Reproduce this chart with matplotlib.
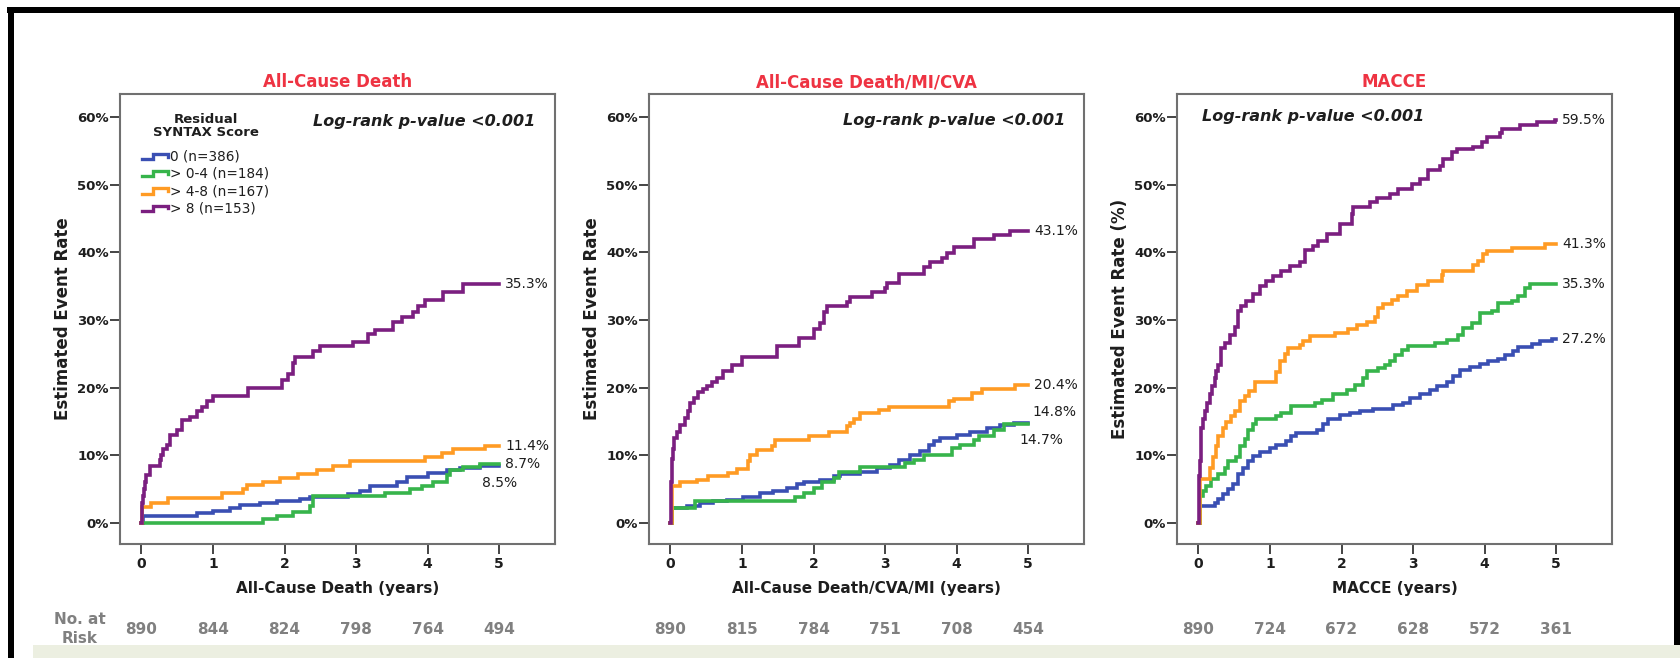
import numpy as np
import matplotlib.pyplot as plt
from matplotlib.patches import Rectangle

plt.rcParams['font.family'] = ['DejaVu Sans']

W, H = 1680, 658

# Residual SYNTAX score groups
groups = ['0 (n=386)', '> 0-4 (n=184)', '> 4-8 (n=167)', '> 8 (n=153)']
colors = ['#3a4fb3', '#37b44b', '#ff9b24', '#7b1f80']
years = [0, 1, 2, 3, 4, 5]

# ---- All-cause death: cumulative event rate (%) at each step time (years)
death_0_t = [0, 0.02, 0.77, 1.00, 1.24, 1.38, 1.66, 1.89, 2.21, 2.35, 2.89, 3.05, 3.19, 3.57, 3.71, 4.01, 4.27, 4.45, 4.73]
death_0_y = [0, 1.1, 1.5, 1.8, 2.2, 2.6, 2.9, 3.2, 3.6, 3.9, 4.3, 4.8, 5.4, 6.1, 6.8, 7.4, 7.9, 8.2, 8.5]
death_04_t = [0, 1.70, 1.89, 2.12, 2.35, 2.40, 3.40, 3.75, 3.92, 4.08, 4.27, 4.31, 4.50, 4.73]
death_04_y = [0, 0.6, 1.1, 1.7, 2.5, 4.0, 4.5, 5.0, 5.5, 6.1, 7.1, 7.8, 8.3, 8.7]
death_48_t = [0, 0.01, 0.14, 0.37, 1.12, 1.42, 1.47, 1.70, 1.93, 2.19, 2.45, 2.68, 2.91, 3.96, 4.20, 4.36, 4.80]
death_48_y = [0, 2.4, 3.0, 3.7, 4.4, 5.0, 5.6, 6.1, 6.6, 7.2, 7.8, 8.4, 9.2, 9.7, 10.3, 10.9, 11.4]
death_8_t = [0, 0.005, 0.01, 0.02, 0.03, 0.05, 0.07, 0.12, 0.26, 0.28, 0.30, 0.36, 0.40, 0.49, 0.56, 0.68,
             0.77, 0.84, 0.91, 1.00, 1.49, 1.96, 2.05, 2.12, 2.15, 2.40, 2.49, 2.96, 3.17, 3.26, 3.52, 3.64,
             3.80, 3.86, 3.96, 4.22, 4.50]
death_8_y = [0, 1.5, 3.0, 4.0, 5.0, 6.0, 7.1, 8.5, 9.3, 10.0, 11.0, 11.6, 13.0, 13.8, 15.2, 15.7,
             16.5, 17.2, 18.0, 18.7, 19.9, 21.1, 22.0, 23.6, 24.5, 25.4, 26.1, 26.7, 27.9, 28.5, 29.7, 30.4,
             31.2, 32.0, 33.0, 34.2, 35.3]
death_risk = [890, 844, 824, 798, 764, 494]

# ---- All-cause death / MI / CVA
dmc_0_t = [0, 0.02, 0.23, 0.41, 0.60, 0.79, 1.02, 1.25, 1.44, 1.63, 1.77, 1.86, 2.09, 2.28, 2.37, 2.65,
           2.89, 3.07, 3.19, 3.35, 3.49, 3.61, 3.68, 3.77, 4.00, 4.19, 4.42, 4.61, 4.80]
dmc_0_y = [0, 2.2, 2.5, 2.9, 3.2, 3.4, 3.9, 4.4, 4.8, 5.2, 5.7, 6.1, 6.3, 6.9, 7.3, 7.6,
           8.1, 8.6, 9.3, 10.1, 10.6, 11.6, 12.1, 12.5, 13.0, 13.5, 14.0, 14.5, 14.8]
dmc_04_t = [0, 0.02, 0.34, 1.74, 1.86, 2.00, 2.12, 2.28, 2.35, 2.65, 3.28, 3.40, 3.54, 3.93, 4.05, 4.24, 4.31, 4.52, 4.66]
dmc_04_y = [0, 2.2, 3.2, 3.9, 4.4, 5.2, 6.1, 6.6, 7.6, 8.3, 8.9, 9.3, 10.1, 11.1, 11.6, 12.2, 12.8, 13.8, 14.7]
dmc_48_t = [0, 0.02, 0.135, 0.37, 0.53, 0.81, 0.93, 1.09, 1.11, 1.21, 1.42, 1.46, 1.93, 2.21, 2.47, 2.51,
            2.56, 2.65, 2.91, 3.05, 3.89, 3.96, 4.21, 4.35, 4.82]
dmc_48_y = [0, 5.4, 6.0, 6.4, 6.9, 7.4, 8.0, 9.1, 10.1, 10.8, 11.4, 12.2, 12.9, 13.5, 14.3, 14.8,
            15.3, 16.2, 16.7, 17.2, 18.0, 18.4, 19.2, 19.8, 20.4]
dmc_8_t = [0, 0.003, 0.006, 0.01, 0.015, 0.02, 0.03, 0.05, 0.09, 0.135, 0.205, 0.24, 0.275, 0.33, 0.39,
           0.45, 0.51, 0.58, 0.65, 0.74, 0.86, 1.00, 1.49, 1.79, 2.00, 2.09, 2.14, 2.19, 2.47, 2.51, 2.82,
           3.00, 3.03, 3.19, 3.54, 3.63, 3.79, 3.86, 3.96, 4.24, 4.52, 4.75]
dmc_8_y = [0, 2, 4, 6, 8, 9.5, 11, 12.5, 13.5, 14.5, 15.5, 16.5, 17.7, 18.5, 19.3,
           19.8, 20.3, 20.8, 21.4, 22.4, 23.4, 24.6, 26.1, 27.3, 28.6, 29.5, 31.2, 32.1, 32.7, 33.4, 34.1,
           34.7, 35.4, 36.8, 37.8, 38.5, 39.2, 39.9, 40.8, 42.0, 42.6, 43.1]
dmc_risk = [890, 815, 784, 751, 708, 454]

# ---- MACCE
macce_0_t = [0, 0.02, 0.23, 0.275, 0.345, 0.415, 0.485, 0.555, 0.625, 0.695, 0.765, 0.86, 1.00, 1.09,
             1.23, 1.30, 1.37, 1.65, 1.74, 1.81, 1.98, 2.12, 2.26, 2.44, 2.72, 2.86, 2.96, 3.10, 3.24,
             3.33, 3.47, 3.56, 3.66, 3.79, 3.93, 4.05, 4.19, 4.28, 4.40, 4.47, 4.66, 4.77, 4.94]
macce_0_y = [0, 2.5, 3.0, 3.5, 4.3, 5.0, 5.7, 7.2, 8.2, 9.2, 9.9, 10.5, 11.1, 11.6,
             12.1, 12.8, 13.3, 13.8, 14.6, 15.4, 16.0, 16.3, 16.6, 16.9, 17.4, 17.7, 18.5, 19.1, 19.7,
             20.3, 20.9, 21.7, 22.6, 23.1, 23.5, 23.9, 24.3, 24.8, 25.4, 26.0, 26.5, 26.9, 27.2]
macce_04_t = [0, 0.02, 0.065, 0.11, 0.18, 0.275, 0.37, 0.415, 0.53, 0.58, 0.65, 0.695, 0.765, 0.81, 1.09,
              1.16, 1.30, 1.63, 1.72, 1.88, 2.07, 2.19, 2.30, 2.35, 2.51, 2.61, 2.68, 2.75, 2.84, 2.93,
              3.31, 3.47, 3.63, 3.70, 3.82, 3.93, 4.10, 4.19, 4.38, 4.47, 4.56, 4.63]
macce_04_y = [0, 4.0, 4.8, 5.5, 6.5, 7.2, 8.2, 9.2, 9.7, 11.4, 12.4, 13.8, 14.6, 15.3, 15.8,
              16.3, 17.3, 17.7, 18.2, 19.0, 19.7, 20.4, 21.4, 22.4, 22.9, 23.4, 23.9, 24.9, 25.6, 26.1,
              26.6, 27.1, 27.8, 28.8, 29.6, 31.0, 31.3, 32.5, 32.8, 33.5, 34.8, 35.3]
macce_48_t = [0, 0.02, 0.16, 0.21, 0.25, 0.275, 0.345, 0.39, 0.46, 0.51, 0.58, 0.65, 0.70, 0.79, 1.09,
              1.14, 1.21, 1.25, 1.42, 1.46, 1.56, 1.91, 2.09, 2.21, 2.35, 2.47, 2.51, 2.58, 2.70, 2.79,
              2.91, 3.05, 3.21, 3.40, 3.42, 3.84, 3.91, 3.98, 4.03, 4.38, 4.84]
macce_48_y = [0, 6.5, 8.2, 9.7, 11.4, 12.8, 14.1, 15.0, 15.8, 16.5, 18.0, 18.7, 19.5, 20.8, 22.3,
              24.0, 25.0, 25.8, 26.3, 26.9, 27.6, 28.1, 28.6, 29.2, 29.7, 30.5, 31.8, 32.4, 33.0, 33.6,
              34.3, 35.2, 35.7, 36.7, 37.2, 38.2, 38.7, 39.7, 40.2, 40.7, 41.3]
macce_8_t = [0, 0.003, 0.006, 0.01, 0.015, 0.019, 0.03, 0.042, 0.06, 0.089, 0.12, 0.159, 0.19, 0.228,
             0.25, 0.275, 0.32, 0.37, 0.44, 0.51, 0.555, 0.60, 0.67, 0.765, 0.86, 0.95, 1.04, 1.16, 1.28,
             1.42, 1.49, 1.60, 1.67, 1.79, 1.98, 2.14, 2.16, 2.40, 2.49, 2.68, 2.79, 2.98, 3.10, 3.21,
             3.38, 3.42, 3.54, 3.61, 3.84, 3.96, 4.03, 4.21, 4.24, 4.49, 4.73, 4.98]
macce_8_y = [0, 2.5, 5.0, 7.0, 8.5, 9.2, 11.5, 14.0, 15.3, 16.5, 17.8, 19.0, 20.2, 21.4,
             22.4, 23.4, 25.8, 26.6, 27.8, 29.0, 31.3, 32.0, 32.8, 33.8, 35.0, 35.7, 36.5, 37.2, 38.0,
             38.5, 40.4, 40.9, 41.7, 42.7, 44.2, 45.6, 46.7, 47.4, 48.1, 48.6, 49.4, 50.1, 50.8, 52.1,
             52.8, 53.8, 54.8, 55.2, 55.6, 56.3, 57.0, 57.6, 58.2, 58.8, 59.2, 59.5]
macce_risk = [890, 724, 672, 628, 572, 361]

panels = [
    dict(title='All-Cause Death', xlabel='All-Cause Death (years)', ylabel='Estimated Event Rate',
         curves=[(death_0_t, death_0_y), (death_04_t, death_04_y), (death_48_t, death_48_y), (death_8_t, death_8_y)],
         risk=death_risk, left=120, logrank=(0.954, 0.938, 'right'),
         offsets=[(-17, -17), (6, 0), (6, 0), (6, 0)]),
    dict(title='All-Cause Death/MI/CVA', xlabel='All-Cause Death/CVA/MI (years)', ylabel='Estimated Event Rate',
         curves=[(dmc_0_t, dmc_0_y), (dmc_04_t, dmc_04_y), (dmc_48_t, dmc_48_y), (dmc_8_t, dmc_8_y)],
         risk=dmc_risk, left=649, logrank=(0.956, 0.942, 'right'),
         offsets=[(4, 11), (-9, -16), (6, 0), (6, 0)]),
    dict(title='MACCE', xlabel='MACCE (years)', ylabel='Estimated Event Rate (%)',
         curves=[(macce_0_t, macce_0_y), (macce_04_t, macce_04_y), (macce_48_t, macce_48_y), (macce_8_t, macce_8_y)],
         risk=macce_risk, left=1177, logrank=(0.057, 0.950, 'left'),
         offsets=[(6, 0), (6, 0), (6, 0), (6, 0)]),
]

fig = plt.figure(figsize=(W / 100, H / 100), dpi=100)
fig.patch.set_facecolor('white')

ax_w, ax_top, ax_bot = 435, 94, 544
text_c = '#1e1e1e'
risk_c = '#808080'

for p in panels:
    ax = fig.add_axes([p['left'] / W, 1 - ax_bot / H, ax_w / W, (ax_bot - ax_top) / H])
    for (t, y), c, off in zip(p['curves'], colors, p['offsets']):
        tt = np.append(t, 5.0)
        yy = np.append(y, y[-1])
        ax.step(tt, yy, where='post', color=c, lw=2.6, solid_joinstyle='miter', zorder=3)
        ax.annotate(f'{y[-1]:.1f}%', xy=(5.0, y[-1]), xytext=off, textcoords='offset pixels',
                    ha='left', va='center', fontsize=10, color=text_c, annotation_clip=False)

    ax.set_xlim(-0.30, 5.78)
    ax.set_ylim(-3.1, 63.4)
    ax.set_xticks(years)
    ax.set_yticks(range(0, 61, 10))
    ax.set_yticklabels([f'{v}%' for v in range(0, 61, 10)])
    ax.tick_params(direction='out', length=7, width=1.4, color='#444444', labelsize=9.5,
                   labelcolor=text_c, pad=1)
    ax.tick_params(axis='x', labelsize=10, pad=2)
    for lab in ax.get_xticklabels() + ax.get_yticklabels():
        lab.set_fontweight('bold')
    for sp in ax.spines.values():
        sp.set_color('#707070')
        sp.set_linewidth(1.5)

    ax.set_title(p['title'], color='#ee3342', fontsize=12, fontweight='bold', pad=5)
    ax.set_xlabel(p['xlabel'], fontsize=11, fontweight='bold', color=text_c)
    ax.xaxis.set_label_coords(0.5, -0.082)
    ax.set_ylabel(p['ylabel'], fontsize=12, fontweight='bold', color=text_c)
    ax.yaxis.set_label_coords(-0.11, 0.5)

    lx, ly, lha = p['logrank']
    ax.text(lx, ly, 'Log-rank p-value <0.001', transform=ax.transAxes, ha=lha, va='center',
            fontsize=11.5, fontweight='bold', fontstyle='italic', color=text_c)

    # numbers at risk under each year
    for yr, n in zip(years, p['risk']):
        ax.text(yr, -0.19, str(n), transform=ax.get_xaxis_transform(), ha='center', va='center',
                fontsize=11, fontweight='bold', color=risk_c, clip_on=False)

    if p is panels[0]:
        ax.text(0.198, 0.929, 'Residual\nSYNTAX Score', transform=ax.transAxes, ha='center',
                va='center', fontsize=9.5, fontweight='bold', color=text_c, linespacing=1.0)
        icon_x = np.array([0.0, 0.42, 0.42, 0.95, 0.95])
        icon_y = np.array([-0.5, -0.5, 0.5, 0.5, 0.0])
        for i, (g, c) in enumerate(zip(groups, colors)):
            yc = 0.861 - i * 0.0383
            ax.plot(0.050 + icon_x * 0.063, yc + icon_y * 0.012, color=c, lw=2.4,
                    transform=ax.transAxes, clip_on=False, solid_joinstyle='miter')
            ax.text(0.115, yc, g, transform=ax.transAxes, ha='left', va='center',
                    fontsize=9.8, color=text_c)

fig.text(80 / W, 1 - 629 / H, 'No. at\nRisk', ha='center', va='center', fontsize=11,
         fontweight='bold', color=risk_c, linespacing=1.35)

# frame and footer strip
fig.patches.append(Rectangle((7 / W, 1 - 13 / H), 1 - 7 / W, 6 / H, transform=fig.transFigure,
                             facecolor='black', edgecolor='none', zorder=20))
fig.patches.append(Rectangle((8 / W, 0), 6 / W, 1 - 7 / H, transform=fig.transFigure,
                             facecolor='black', edgecolor='none', zorder=20))
fig.patches.append(Rectangle((1674 / W, 13 / H), 6 / W, 1 - 20 / H, transform=fig.transFigure,
                             facecolor='black', edgecolor='none', zorder=20))
fig.patches.append(Rectangle((33 / W, 0), 1 - 33 / W, 13 / H, transform=fig.transFigure,
                             facecolor='#ecefe1', edgecolor='none', zorder=20))

fig.savefig('out.png', dpi=100)
